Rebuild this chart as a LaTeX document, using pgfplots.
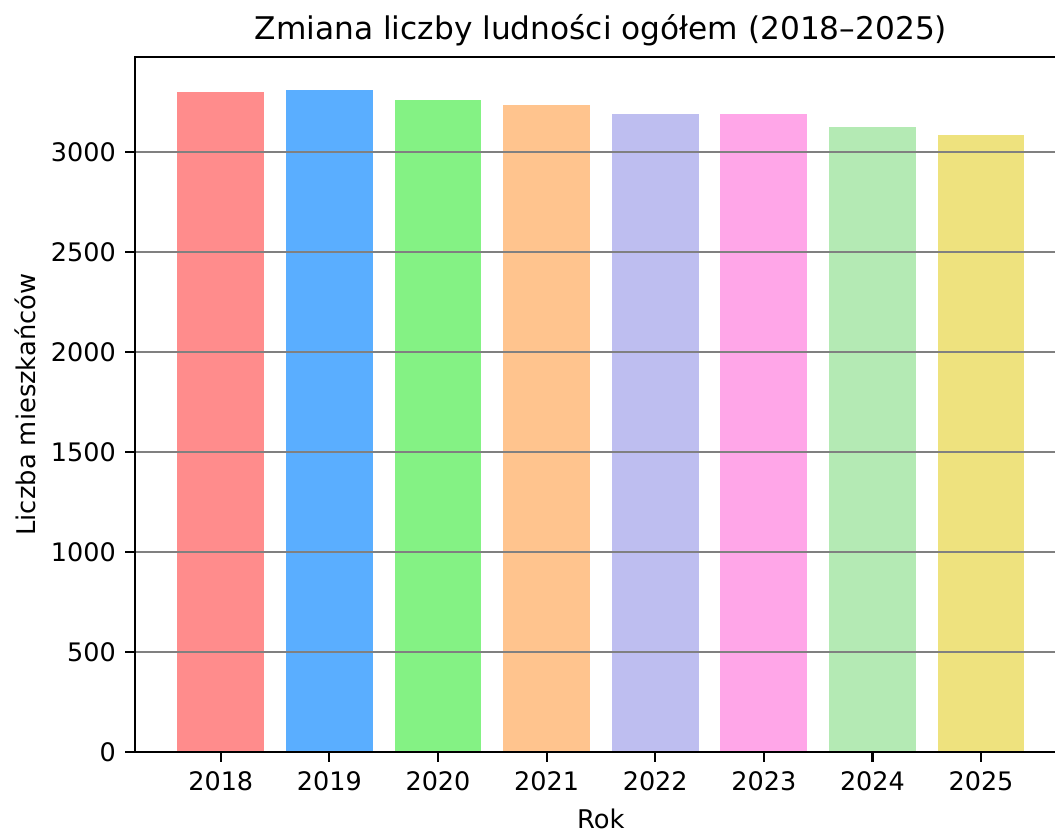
\documentclass[border=0pt]{standalone}
\usepackage{fontspec}
\setmainfont{DejaVu Sans}
\usepackage{pgfplots}
\pgfplotsset{compat=1.18}
\usetikzlibrary{calc}
\def\px{0.365pt}
\definecolor{c18}{HTML}{FF8C8C}
\definecolor{c19}{HTML}{5AAEFF}
\definecolor{c20}{HTML}{84F284}
\definecolor{c21}{HTML}{FFC48E}
\definecolor{c22}{HTML}{BEBEF0}
\definecolor{c23}{HTML}{FFA6E8}
\definecolor{c24}{HTML}{B4EAB4}
\definecolor{c25}{HTML}{EEE27E}
\begin{document}
\begin{tikzpicture}
\begin{axis}[
  scale only axis,
  width=931.8*\px, height=695*\px,
  xmin=-0.79, xmax=7.79,
  ymin=0, ymax=3475.5,
  ybar, bar width=0.8, bar shift=0pt,
  xtick={0,...,7},
  xticklabels={2018,2019,2020,2021,2022,2023,2024,2025},
  ytick={0,500,...,3000},
  /pgf/number format/assume math mode=true,
  /pgf/number format/1000 sep={},
  ticklabel style={font=\fontsize{9.3}{11}\selectfont},
  tick align=outside, tick pos=left,
  major tick length=3.5pt,
  tick style={black, line width=0.8pt},
  axis line style={line width=0.8pt},
  ymajorgrids, grid style={gray, line width=0.8pt},
  axis on top,
  title={Zmiana liczby ludności ogółem (2018–2025)},
  title style={font=\fontsize{11.4}{13.5}\selectfont, yshift=-5.5pt},
  xlabel={Rok}, ylabel={Liczba mieszkańców},
  label style={font=\fontsize{9.4}{11}\selectfont},
  xlabel style={yshift=0pt},
  ylabel style={yshift=-1.5pt},
]
\addplot[fill=c18, draw=none] coordinates {(0,3301)};
\addplot[fill=c19, draw=none] coordinates {(1,3310)};
\addplot[fill=c20, draw=none] coordinates {(2,3260)};
\addplot[fill=c21, draw=none] coordinates {(3,3236)};
\addplot[fill=c22, draw=none] coordinates {(4,3190)};
\addplot[fill=c23, draw=none] coordinates {(5,3190)};
\addplot[fill=c24, draw=none] coordinates {(6,3126)};
\addplot[fill=c25, draw=none] coordinates {(7,3086)};
\coordinate (SW) at (rel axis cs:0,0);
\end{axis}
\pgfresetboundingbox
\path ($(SW)+(-135*\px,-78*\px)$) rectangle ($(SW)+(920*\px,752*\px)$);
\end{tikzpicture}
\end{document}
